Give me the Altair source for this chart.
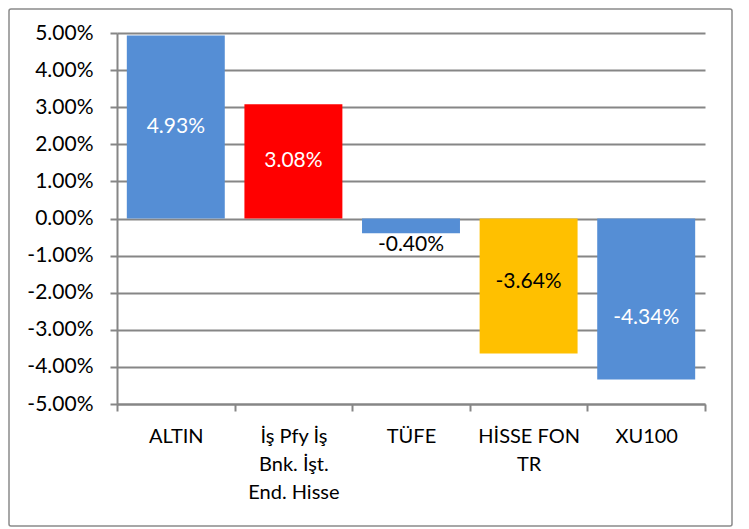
import altair as alt
import pandas as pd

categories = ["ALTIN", "İş Pfy İş\nBnk. İşt.\nEnd. Hisse", "TÜFE", "HİSSE FON\nTR", "XU100"]
values = [0.0493, 0.0308, -0.0040, -0.0364, -0.0434]
bar_colors = ["#558ED5", "#FF0000", "#558ED5", "#FFC000", "#558ED5"]
label_colors = ["#FFFFFF", "#FFFFFF", "#000000", "#000000", "#FFFFFF"]
label_pos = [0.02465, 0.0154, -0.0071, -0.0171, -0.0268]
y_ticks = [-0.05, -0.04, -0.03, -0.02, -0.01, 0.0, 0.01, 0.02, 0.03, 0.04, 0.05]

df = pd.DataFrame({
    "cat": categories,
    "value": values,
    "bar_color": bar_colors,
    "label_color": label_colors,
    "label_pos": label_pos,
})

FONT = "Lato"
GRID = "#868686"

x_scale = alt.Scale(paddingInner=0, paddingOuter=0)
x_axis = alt.Axis(
    labelAngle=0, labelExpr="split(datum.label, '\\n')",
    labelLineHeight=28, labelFontSize=20, labelFont=FONT, labelColor="#000000",
    labelPadding=15, tickBand="extent", tickSize=7, tickColor=GRID, tickWidth=2,
    domainColor=GRID, domainWidth=2, grid=False, labelBaseline="top",
    labelOverlap=False,
)

y_scale = alt.Scale(domain=[-0.05, 0.05], nice=False)
y_axis = alt.Axis(
    values=y_ticks, tickCount=11, format=".2%",
    labelExpr="replace(datum.label, '\u2212', '-')",
    labelFontSize=21, labelFont=FONT, labelOverlap=False,
    labelColor="#000000", labelPadding=17, tickSize=7, tickColor=GRID,
    tickWidth=2, domainColor=GRID, domainWidth=2, grid=True,
    gridColor=GRID, gridWidth=2,
)

bars = alt.Chart(df).mark_bar(width=alt.RelativeBandSize(0.833)).encode(
    x=alt.X("cat:N", sort=None, title=None, scale=x_scale, axis=x_axis),
    y=alt.Y("value:Q", scale=y_scale, title=None, axis=y_axis),
    y2=alt.datum(0),
    color=alt.Color("bar_color:N", scale=None),
)

labels = alt.Chart(df).transform_calculate(
    txt="replace(format(datum.value, '.2%'), '\u2212', '-')"
).mark_text(font=FONT, fontSize=21, baseline="middle").encode(
    x=alt.X("cat:N", sort=None, title=None, scale=x_scale, axis=x_axis),
    y=alt.Y("label_pos:Q", scale=y_scale, title=None, axis=y_axis),
    text=alt.Text("txt:N"),
    color=alt.Color("label_color:N", scale=None),
)

border = alt.Chart(pd.DataFrame({"a": [0]})).mark_rect(
    fill=None, stroke="#8a8a8a", strokeWidth=1.5, cornerRadius=2, clip=False
).encode(
    x=alt.value(-108), x2=alt.value(615), y=alt.value(-24), y2=alt.value(493)
)

chart = alt.layer(border, bars, labels).properties(
    width=588, height=371,
    autosize=alt.AutoSizeParams(type="none"),
    padding={"left": 109, "top": 25, "right": 35, "bottom": 130},
).configure_view(stroke=None)

chart.save("out.html", embed_options={"renderer": "svg", "actions": False})
